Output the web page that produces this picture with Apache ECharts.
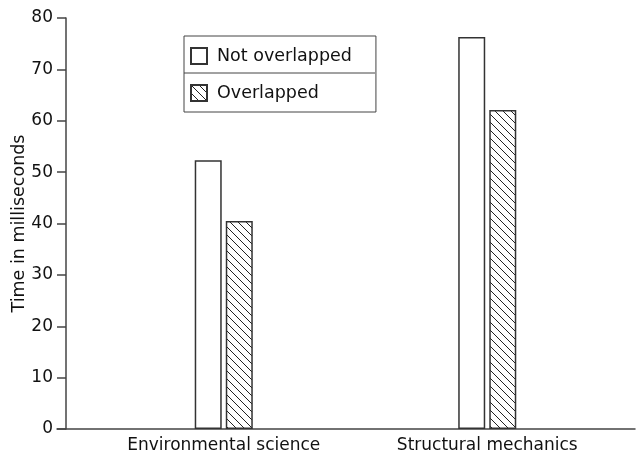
<!DOCTYPE html>
<html>
<head>
<meta charset="utf-8">
<script src="https://cdn.jsdelivr.net/npm/echarts@6/dist/echarts.min.js"></script>
<style>
  html, body { margin: 0; padding: 0; background: #fff; }
  #chart { width: 637px; height: 455px; }
</style>
</head>
<body>
<div id="chart"></div>
<script>
// Datos
const categories = ['Environmental science', 'Structural mechanics'];
const notOverlapped = [52.3, 76.3];
const overlapped = [40.5, 62.1];
const yTicks = [0, 10, 20, 30, 40, 50, 60, 70, 80];

const FONT = 'DejaVu Sans';
const INK = '#111';
const LINE = '#444';

// Patrón rayado para la serie "Overlapped"
function hatchPattern() {
  const c = document.createElement('canvas');
  c.width = 8;
  c.height = 8;
  const ctx = c.getContext('2d');
  ctx.fillStyle = '#fff';
  ctx.fillRect(0, 0, 8, 8);
  ctx.strokeStyle = '#222';
  ctx.lineWidth = 1;
  ctx.beginPath();
  ctx.moveTo(-2, -2); ctx.lineTo(10, 10);
  ctx.moveTo(-2, 6); ctx.lineTo(2, 10);
  ctx.moveTo(6, -2); ctx.lineTo(10, 2);
  ctx.stroke();
  return c;
}

const chart = echarts.init(document.getElementById('chart'));
const option = {
  animation: false,
  backgroundColor: '#fff',
  textStyle: { fontFamily: FONT, color: INK },
  grid: [
    { left: 92, right: 18, top: 18, bottom: 26, outerBoundsMode: 'none' },
    // solo para la línea del eje x, más ancha
    { left: 57, right: 2, top: 18, bottom: 26, outerBoundsMode: 'none' }
  ],
  legend: {
    left: 184,
    top: 36,
    orient: 'vertical',
    icon: 'rect',
    itemWidth: 16,
    itemHeight: 16,
    itemGap: 19,
    padding: [11, 24, 10, 6],
    borderColor: LINE,
    borderWidth: 1,
    textStyle: { fontFamily: FONT, fontSize: 17.5, color: INK, padding: [0, 0, 0, 5], lineHeight: 16 },
    data: ['Not overlapped', 'Overlapped']
  },
  graphic: [{
    type: 'line',
    shape: { x1: 184, y1: 73, x2: 375, y2: 73 },
    style: { stroke: LINE, lineWidth: 1 }
  }],
  xAxis: [{
    type: 'category',
    gridIndex: 0,
    data: categories,
    axisLine: { show: false },
    axisTick: { show: false },
    axisLabel: { fontFamily: FONT, fontSize: 17, color: INK, margin: 8 }
  }, {
    type: 'value',
    gridIndex: 1,
    min: 0,
    max: 1,
    axisLine: { show: true, lineStyle: { color: LINE, width: 1.5 } },
    axisTick: { show: false },
    axisLabel: { show: false },
    splitLine: { show: false }
  }],
  yAxis: [{
    type: 'value',
    gridIndex: 0,
    min: 0,
    max: 80,
    interval: 10,
    offset: 26,
    name: 'Time in milliseconds',
    nameLocation: 'middle',
    nameGap: 38,
    nameMoveOverlap: false,
    nameTextStyle: { fontFamily: FONT, fontSize: 17.5, color: INK },
    axisLine: { show: true, lineStyle: { color: LINE, width: 1.5 } },
    axisTick: { show: true, length: 9, lineStyle: { color: LINE, width: 1.5 } },
    axisLabel: {
      fontFamily: FONT, fontSize: 17, color: INK, margin: 13,
      formatter: v => (yTicks.indexOf(v) >= 0 ? String(v) : '')
    },
    splitLine: { show: false }
  }, {
    type: 'value',
    gridIndex: 1,
    show: false
  }],
  series: [{
    name: 'Not overlapped',
    type: 'bar',
    xAxisIndex: 0,
    yAxisIndex: 0,
    data: notOverlapped,
    barWidth: 27,
    barGap: '15%',
    itemStyle: { color: '#fff', borderColor: '#333', borderWidth: 1.5 }
  }, {
    name: 'Overlapped',
    type: 'bar',
    xAxisIndex: 0,
    yAxisIndex: 0,
    data: overlapped,
    barWidth: 27,
    barGap: '15%',
    itemStyle: {
      color: { image: hatchPattern(), repeat: 'repeat' },
      borderColor: '#333',
      borderWidth: 1.5
    }
  }]
};
chart.setOption(option);
</script>
</body>
</html>
